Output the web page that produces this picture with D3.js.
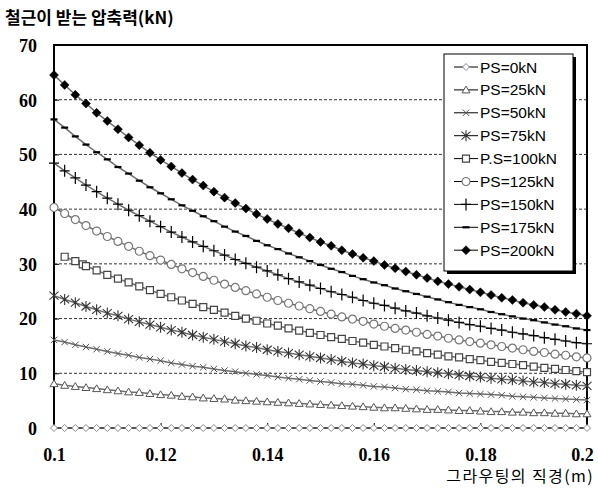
<!DOCTYPE html>
<html><head><meta charset="utf-8">
<script src="https://cdnjs.cloudflare.com/ajax/libs/d3/7.8.5/d3.min.js"></script>
<style>html,body{margin:0;padding:0;background:#fff;}svg{display:block;}</style>
</head><body>
<script>
const diameters = [0.100,0.102,0.104,0.106,0.108,0.110,0.112,0.114,0.116,0.118,0.120,0.122,0.124,0.126,0.128,0.130,0.132,0.134,0.136,0.138,0.140,0.142,0.144,0.146,0.148,0.150,0.152,0.154,0.156,0.158,0.160,0.162,0.164,0.166,0.168,0.170,0.172,0.174,0.176,0.178,0.180,0.182,0.184,0.186,0.188,0.190,0.192,0.194,0.196,0.198,0.200];
const diametersPS100 = [0.102,0.104,0.1054,0.106,0.108,0.110,0.112,0.114,0.116,0.118,0.120,0.122,0.124,0.126,0.128,0.130,0.132,0.134,0.136,0.138,0.140,0.142,0.144,0.146,0.148,0.150,0.152,0.154,0.156,0.158,0.160,0.162,0.164,0.166,0.168,0.170,0.172,0.174,0.176,0.178,0.180,0.182,0.184,0.186,0.188,0.190,0.192,0.194,0.196,0.198,0.200];

const ps0 = [0,0,0,0,0,0,0,0,0,0,0,0,0,0,0,0,0,0,0,0,0,0,0,0,0,0,0,0,0,0,0,0,0,0,0,0,0,0,0,0,0,0,0,0,0,0,0,0,0,0,0];
const ps25 = [8.1,7.8,7.6,7.4,7.2,7.0,6.8,6.6,6.5,6.3,6.1,6.0,5.8,5.7,5.5,5.4,5.3,5.1,5.0,4.9,4.8,4.7,4.6,4.5,4.4,4.3,4.2,4.1,4.0,3.9,3.8,3.7,3.7,3.6,3.5,3.4,3.4,3.3,3.2,3.2,3.1,3.0,3.0,2.9,2.9,2.8,2.8,2.7,2.7,2.6,2.6];
const ps50 = [16.1,15.7,15.2,14.8,14.4,14.0,13.6,13.3,12.9,12.6,12.3,11.9,11.6,11.3,11.1,10.8,10.5,10.3,10.0,9.8,9.6,9.3,9.1,8.9,8.7,8.5,8.3,8.1,8.0,7.8,7.6,7.5,7.3,7.1,7.0,6.8,6.7,6.6,6.4,6.3,6.2,6.1,6.0,5.8,5.7,5.6,5.5,5.4,5.3,5.2,5.1];
const ps75 = [24.2,23.5,22.9,22.2,21.6,21.0,20.5,19.9,19.4,18.9,18.4,17.9,17.5,17.0,16.6,16.2,15.8,15.4,15.0,14.7,14.3,14.0,13.7,13.4,13.1,12.8,12.5,12.2,11.9,11.7,11.4,11.2,10.9,10.7,10.5,10.3,10.1,9.9,9.7,9.5,9.3,9.1,8.9,8.8,8.6,8.4,8.3,8.1,8.0,7.8,7.7];
const ps100 = [31.3,30.5,29.9,29.6,28.8,28.0,27.3,26.6,25.9,25.2,24.5,23.9,23.3,22.7,22.1,21.6,21.1,20.5,20.0,19.6,19.1,18.7,18.2,17.8,17.4,17.0,16.6,16.3,15.9,15.6,15.2,14.9,14.6,14.3,14.0,13.7,13.4,13.1,12.9,12.6,12.4,12.1,11.9,11.7,11.5,11.2,11.0,10.8,10.6,10.4,10.2];
const ps125 = [40.3,39.2,38.1,37.0,36.0,35.0,34.1,33.2,32.3,31.5,30.7,29.9,29.1,28.4,27.7,27.0,26.3,25.7,25.1,24.5,23.9,23.3,22.8,22.3,21.8,21.3,20.8,20.3,19.9,19.5,19.0,18.6,18.2,17.9,17.5,17.1,16.8,16.4,16.1,15.8,15.5,15.2,14.9,14.6,14.3,14.0,13.8,13.5,13.3,13.0,12.8];
const ps150 = [48.4,47.0,45.7,44.4,43.2,42.0,40.9,39.8,38.8,37.8,36.8,35.8,34.9,34.0,33.2,32.4,31.6,30.8,30.1,29.4,28.7,28.0,27.3,26.7,26.1,25.5,24.9,24.4,23.9,23.3,22.8,22.4,21.9,21.4,21.0,20.5,20.1,19.7,19.3,18.9,18.6,18.2,17.9,17.5,17.2,16.9,16.5,16.2,15.9,15.6,15.4];
const ps175 = [56.4,54.9,53.3,51.8,50.4,49.1,47.7,46.5,45.2,44.0,42.9,41.8,40.7,39.7,38.7,37.8,36.8,35.9,35.1,34.2,33.4,32.7,31.9,31.2,30.5,29.8,29.1,28.5,27.8,27.2,26.6,26.1,25.5,25.0,24.5,24.0,23.5,23.0,22.5,22.1,21.7,21.2,20.8,20.4,20.0,19.7,19.3,18.9,18.6,18.2,17.9];
const ps200 = [64.5,62.7,60.9,59.3,57.6,56.1,54.6,53.1,51.7,50.3,49.0,47.8,46.6,45.4,44.3,43.2,42.1,41.1,40.1,39.1,38.2,37.3,36.5,35.6,34.8,34.0,33.3,32.5,31.8,31.1,30.5,29.8,29.2,28.6,28.0,27.4,26.8,26.3,25.8,25.3,24.8,24.3,23.8,23.4,22.9,22.5,22.1,21.6,21.2,20.9,20.5];

const seriesNames = ["PS=0kN","PS=25kN","PS=50kN","PS=75kN","P.S=100kN","PS=125kN","PS=150kN","PS=175kN","PS=200kN"];
const yTicks = [0,10,20,30,40,50,60,70];
const xTicks = [0.1,0.12,0.14,0.16,0.18,0.2];
const xTickLabels = ["0.1","0.12","0.14","0.16","0.18","0.2"];
const yTitle = "철근이 받는 압축력(kN)";
const xTitle = "그라우팅의 직경(m)";

const W = 598, H = 488;
const svg = d3.select("body").append("svg").attr("width", W).attr("height", H);

const x = d3.scaleLinear().domain([0.1, 0.2]).range([54, 587]);
const y = d3.scaleLinear().domain([0, 70]).range([428, 45]);

// marker shapes
const markers = [
  {d:"M0,-3.5L3.5,0L0,3.5L-3.5,0Z", fill:"#fff", stroke:"#8a8a8a", sw:1},
  {d:"M0,-3.8L4,3L-4,3Z", fill:"#fff", stroke:"#555", sw:1},
  {d:"M-3.2,-3.2L3.2,3.2M-3.2,3.2L3.2,-3.2", fill:"none", stroke:"#555", sw:1},
  {d:"M-4.5,-4L4.5,4M-4.5,4L4.5,-4M0,-5.5L0,5.5", fill:"none", stroke:"#333", sw:1.1},
  {d:"M-3.5,-3.5H3.5V3.5H-3.5Z", fill:"#fff", stroke:"#444", sw:1.2},
  {d:"M4,0A4,4 0 1,1 -4,0A4,4 0 1,1 4,0Z", fill:"#fff", stroke:"#777", sw:1.2},
  {d:"M-5,0L5,0M0,-6L0,6", fill:"none", stroke:"#000", sw:1.2},
  {d:"M-3.5,0L3.5,0", fill:"none", stroke:"#000", sw:2.2},
  {d:"M0,-4.5L4.5,0L0,4.5L-4.5,0Z", fill:"#000", stroke:"#000", sw:0.5}
];

const seriesX = [diameters,diameters,diameters,diameters,diametersPS100,diameters,diameters,diameters,diameters];
const seriesY = [ps0,ps25,ps50,ps75,ps100,ps125,ps150,ps175,ps200];
const series = seriesNames.map((n,i) => ({
  name:n, mk:markers[i],
  pts: seriesY[i].map((v,j) => ({d: seriesX[i][j], v}))
}));

// gridlines
svg.append("g").selectAll("line").data(yTicks.filter(t => t > 0 && t < 70)).join("line")
  .attr("x1", x(0.1)).attr("x2", x(0.2))
  .attr("y1", d => y(d)).attr("y2", d => y(d))
  .attr("stroke", "#333").attr("stroke-width", 1).attr("stroke-dasharray", "3,2");

// frame
svg.append("rect").attr("x", x(0.1)).attr("y", y(70))
  .attr("width", x(0.2) - x(0.1)).attr("height", y(0) - y(70))
  .attr("fill", "none").attr("stroke", "#000").attr("stroke-width", 2);

// y axis
const yAxis = d3.axisLeft(y).tickValues(yTicks).tickSize(-5).tickPadding(17).tickFormat(d3.format("d"));
const gy = svg.append("g").attr("transform", `translate(${x(0.1)},0)`).call(yAxis);
gy.select(".domain").remove();
gy.selectAll(".tick line").attr("stroke", "#000");
gy.selectAll("text").attr("font-family", "'Liberation Serif','Times New Roman',serif")
  .attr("font-weight", "bold").attr("font-size", 18).attr("fill", "#000").attr("dy", "0.35em");

// x axis
const xAxis = d3.axisBottom(x).tickValues(xTicks).tickSize(-5).tickPadding(20)
  .tickFormat((d,i) => xTickLabels[i]);
const gx = svg.append("g").attr("transform", `translate(0,${y(0)})`).call(xAxis);
gx.select(".domain").remove();
gx.selectAll(".tick line").attr("stroke", "#000");
gx.selectAll("text").attr("font-family", "'Liberation Serif','Times New Roman',serif")
  .attr("font-weight", "bold").attr("font-size", 18).attr("fill", "#000")
  .attr("dx", (d,i) => i === xTicks.length - 1 ? -5 : 0);

// series
const line = d3.line().x(p => x(p.d)).y(p => y(p.v));
const gs = svg.append("g");
series.forEach(s => {
  gs.append("path").datum(s.pts).attr("d", line)
    .attr("fill", "none").attr("stroke", "#6e6e6e").attr("stroke-width", 1.5);
  gs.append("g").selectAll("path").data(s.pts).join("path")
    .attr("transform", p => `translate(${x(p.d)},${y(p.v)})`)
    .attr("d", s.mk.d).attr("fill", s.mk.fill).attr("stroke", s.mk.stroke)
    .attr("stroke-width", s.mk.sw);
});

// titles
svg.append("text").attr("x", 5).attr("y", 24).text(yTitle)
  .attr("font-family", "'Noto Sans CJK KR',sans-serif").attr("font-weight", "bold")
  .attr("font-size", 17).attr("fill", "#000");
svg.append("text").attr("x", 594).attr("y", 482).attr("text-anchor", "end").text(xTitle)
  .attr("font-family", "'Noto Sans CJK KR',sans-serif")
  .attr("font-size", 16).attr("letter-spacing", 1.4).attr("fill", "#000");

// legend
const lg = svg.append("g");
const lx = 444, ly = 54, lw = 129, lh = 217;
lg.append("rect").attr("x", lx + 3).attr("y", ly + 3).attr("width", lw).attr("height", lh).attr("fill", "#000");
lg.append("rect").attr("x", lx).attr("y", ly).attr("width", lw).attr("height", lh)
  .attr("fill", "#fff").attr("stroke", "#000").attr("stroke-width", 1);
const rows = lg.selectAll("g.row").data(series).join("g").attr("class", "row")
  .attr("transform", (s,i) => `translate(${lx},${ly + 13 + i * 22.9})`);
rows.append("line").attr("x1", 10).attr("x2", 34).attr("y1", 0).attr("y2", 0)
  .attr("stroke", "#000").attr("stroke-width", 1);
rows.append("path").attr("transform", "translate(22,0)")
  .attr("d", s => s.mk.d).attr("fill", s => s.mk.fill).attr("stroke", s => s.mk.stroke)
  .attr("stroke-width", s => s.mk.sw);
rows.append("text").attr("x", 36).attr("y", 0).attr("dy", "0.36em").text(s => s.name)
  .attr("font-family", "Arial,'Liberation Sans',sans-serif").attr("font-size", 15.5).attr("fill", "#000");
</script>
</body></html>
